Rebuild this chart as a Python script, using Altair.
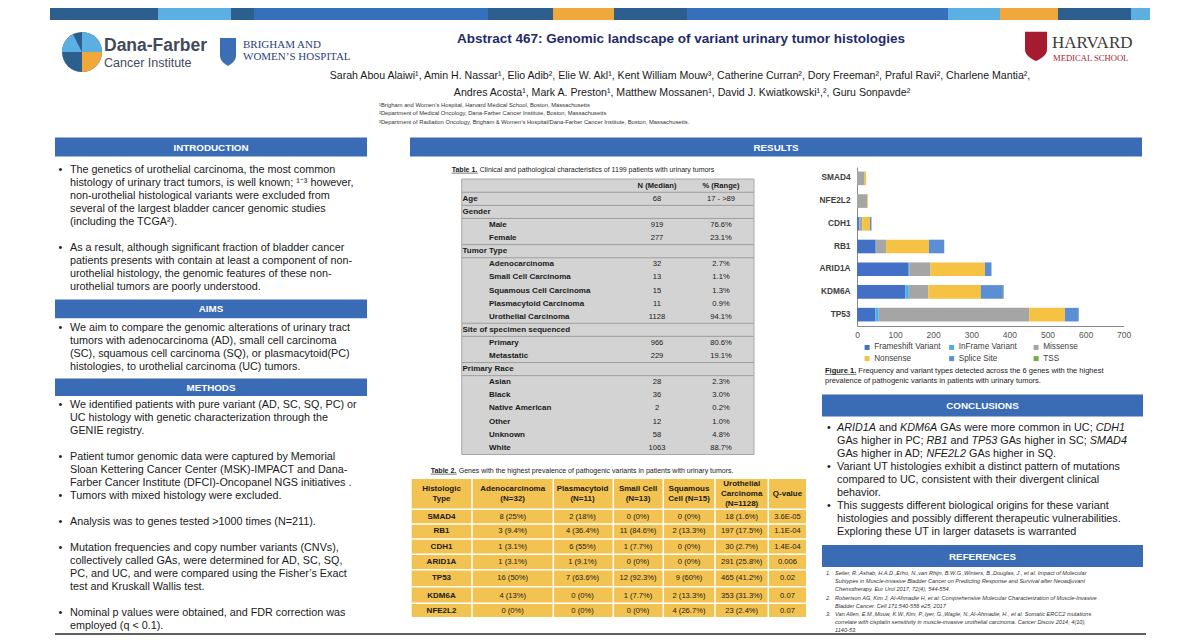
import math
import altair as alt
import pandas as pd

# ---------------- chart values ----------------
genes = ["SMAD4", "NFE2L2", "CDH1", "RB1", "ARID1A", "KDM6A", "TP53"]
variant_types = ["Frameshift Variant", "InFrame Variant", "Missense", "Nonsense", "Splice Site", "TSS"]
frameshift = [0, 0, 5, 49, 134, 127, 48]
inframe = [0, 0, 1, 1, 3, 9, 9]
missense = [20, 27, 8, 26, 56, 51, 395]
nonsense = [4, 2, 20, 113, 143, 138, 94]
splice_site = [0, 0, 4, 40, 17, 58, 36]
tss = [0, 0, 0, 0, 0, 2, 0]
x_ticks = [0, 100, 200, 300, 400, 500, 600, 700]

t1_labels = ["", "Age", "Gender", "Male", "Female", "Tumor Type", "Adenocarcinoma",
             "Small Cell Carcinoma", "Squamous Cell Carcinoma", "Plasmacytoid Carcinoma",
             "Urothelial Carcinoma", "Site of specimen sequenced", "Primary", "Metastatic",
             "Primary Race", "Asian", "Black", "Native American", "Other", "Unknown", "White"]
t1_n = ["N (Median)", "68", "", "919", "277", "", "32", "13", "15", "11", "1128", "", "966",
        "229", "", "28", "36", "2", "12", "58", "1063"]
t1_pct = ["% (Range)", "17 - >89", "", "76.6%", "23.1%", "", "2.7%", "1.1%", "1.3%", "0.9%",
          "94.1%", "", "80.6%", "19.1%", "", "2.3%", "3.0%", "0.2%", "1.0%", "4.8%", "88.7%"]
t1_kind = ["head", "group", "group", "sub", "sub", "group", "sub", "sub", "sub", "sub", "sub",
           "group", "sub", "sub", "group", "sub", "sub", "sub", "sub", "sub", "sub"]

t2_header = [["Histologic", "Type"], ["Adenocarcinoma", "(N=32)"], ["Plasmacytoid", "(N=11)"],
             ["Small Cell", "(N=13)"], ["Squamous", "Cell  (N=15)"],
             ["Urothelial", "Carcinoma", "(N=1128)"], ["Q-value"]]
t2_genes = ["SMAD4", "RB1", "CDH1", "ARID1A", "TP53", "KDM6A", "NFE2L2"]
t2_ad = ["8 (25%)", "3 (9.4%)", "1 (3.1%)", "1 (3.1%)", "16 (50%)", "4 (13%)", "0 (0%)"]
t2_pc = ["2 (18%)", "4 (36.4%)", "6 (55%)", "1 (9.1%)", "7 (63.6%)", "0 (0%)", "0 (0%)"]
t2_sc = ["0 (0%)", "11 (84.6%)", "1 (7.7%)", "0 (0%)", "12 (92.3%)", "1 (7.7%)", "0 (0%)"]
t2_sq = ["0 (0%)", "2 (13.3%)", "0 (0%)", "0 (0%)", "9 (60%)", "2 (13.3%)", "4 (26.7%)"]
t2_uc = ["18 (1.6%)", "197 (17.5%)", "30 (2.7%)", "291 (25.8%)", "465 (41.2%)", "353 (31.3%)", "23 (2.4%)"]
t2_q = ["3.6E-05", "1.1E-04", "1.4E-04", "0.006", "0.02", "0.07", "0.07"]

title_text = "Abstract 467: Genomic landscape of variant urinary tumor histologies"
authors = ["Sarah Abou Alaiwi¹, Amin H. Nassar¹, Elio Adib², Elie W. Akl¹, Kent William Mouw³, Catherine Curran², Dory Freeman², Praful Ravi², Charlene Mantia²,",
           "Andres Acosta¹, Mark A. Preston¹, Matthew Mossanen¹, David J. Kwiatkowski¹,², Guru Sonpavde²"]
affiliations = ["¹Brigham and Women’s Hospital, Harvard Medical School, Boston, Massachusetts",
                "²Department of Medical Oncology, Dana-Farber Cancer Institute, Boston, Massachusetts",
                "³Department of Radiation Oncology, Brigham & Women’s Hospital/Dana-Farber Cancer Institute, Boston, Massachusetts."]
intro_lines = [("•", "The genetics of urothelial carcinoma, the most common"),
               ("", "histology of urinary tract tumors, is well known; ¹⁻³ however,"),
               ("", "non-urothelial histological variants were excluded from"),
               ("", "several of the largest bladder cancer genomic studies"),
               ("", "(including the TCGA²)."),
               ("•", "As a result, although significant fraction of bladder cancer"),
               ("", "patients presents with contain at least a component of non-"),
               ("", "urothelial histology, the genomic features of these non-"),
               ("", "urothelial tumors are poorly understood.")]
aims_lines = [("•", "We aim to compare the genomic alterations of urinary tract"),
              ("", "tumors with adenocarcinoma (AD), small cell carcinoma"),
              ("", "(SC), squamous cell carcinoma (SQ), or plasmacytoid(PC)"),
              ("", "histologies, to urothelial carcinoma (UC) tumors.")]
methods_lines = [("•", "We identified patients with pure variant (AD, SC, SQ, PC) or"),
                 ("", "UC histology with genetic characterization through the"),
                 ("", "GENIE registry."),
                 ("•", "Patient tumor genomic data were captured by Memorial"),
                 ("", "Sloan Kettering Cancer Center (MSK)-IMPACT and Dana-"),
                 ("", "Farber Cancer Institute (DFCI)-Oncopanel NGS initiatives  ."),
                 ("•", "Tumors with mixed histology were excluded."),
                 ("•", "Analysis was to genes tested  >1000 times (N=211)."),
                 ("•", "Mutation frequencies and copy number variants (CNVs),"),
                 ("", "collectively called GAs, were determined for AD, SC, SQ,"),
                 ("", "PC, and UC, and were compared using the Fisher’s Exact"),
                 ("", "test and Kruskall Wallis test."),
                 ("•", "Nominal p values were obtained, and FDR correction was"),
                 ("", "employed (q < 0.1).")]
conclusion_lines = [
    ("•", [("ARID1A", "i"), (" and ", "n"), ("KDM6A", "i"), (" GAs were more common in UC; ", "n"), ("CDH1", "i")]),
    ("", [("GAs higher in PC; ", "n"), ("RB1", "i"), (" and ", "n"), ("TP53", "i"), (" GAs higher in SC; ", "n"), ("SMAD4", "i")]),
    ("", [("GAs higher in AD; ", "n"), ("NFE2L2", "i"), (" GAs higher in SQ.", "n")]),
    ("•", [("Variant UT histologies exhibit a distinct pattern of mutations", "n")]),
    ("", [("compared to UC, consistent with their divergent clinical", "n")]),
    ("", [("behavior.", "n")]),
    ("•", [("This suggests different biological origins for these variant", "n")]),
    ("", [("histologies and possibly different therapeutic vulnerabilities.", "n")]),
    ("", [("Exploring these UT in larger datasets is warranted", "n")]),
]
reference_lines = [
    ("1.", "Seiler, R.,Ashab, H.A.D.,Erho, N.,van Rhijn, B.W.G.,Winters, B.,Douglas, J., et al. Impact of Molecular"),
    ("", "Subtypes in Muscle-invasive Bladder Cancer on Predicting Response and Survival after Neoadjuvant"),
    ("", "Chemotherapy. Eur Urol 2017, 72(4), 544-554."),
    ("2.", "Robertson AG, Kim J, Al-Ahmadie H, et al: Comprehensive Molecular Characterization of Muscle-Invasive"),
    ("", "Bladder Cancer. Cell 171:540-556 e25, 2017"),
    ("3.", "Van Allen, E.M.,Mouw, K.W.,Kim, P.,Iyer, G.,Wagle, N.,Al-Ahmadie, H., et al. Somatic ERCC2 mutations"),
    ("", "correlate with cisplatin sensitivity in muscle-invasive urothelial carcinoma. Cancer Discov 2014, 4(10),"),
    ("", "1140-53."),
]

# ---------------- layout & styles ----------------
OFF = 8
W, H = 1184, 627
FONT = "Liberation Sans"
SERIF = "Liberation Serif"
TXT = "#1a1a1a"
BAND = "#3A6BB5"
NAVY = "#1F2C6B"
DARKB, LIGHTB, MEDB, ORANGE = "#2C5E8E", "#5BAFE1", "#3470BC", "#F0A83A"
variant_colors = ["#4170C6", "#4BAEEA", "#A5A5A5", "#F5C243", "#5B8FD5", "#70AD47"]
BX0, BX1, BY0, BY1 = 857.0, 1123.7, 167.0, 326.0

REG, BLD = {}, {}
for chars, w in [("'", 191), ("ijl", 222), (" !,./:;I[]\\ft", 278), ("()-r`", 333), ('"', 355), ("*", 389),
                 ("Jckszvxy", 500), ("#$0123456789?L_abdeghnopqu", 556), ("+<=>~", 584), ("FTZ", 611),
                 ("&ABEKPSVXY", 667), ("CDHNRUw", 722), ("GOQ", 778), ("Mm", 833), ("%", 889), ("W", 944), ("@", 1015)]:
    for c in chars:
        REG[c] = w
for chars, w in [("'", 238), (" ,./I[]\\ijl", 278), ("!()-:;`ft", 333), ("*r", 389), ('"', 474), ("z", 500),
                 ("#$0123456789Jacekxsvy_", 556), ("+<=>", 584), ("?FLTZbdghnopqu", 611), ("EPSVXY", 667),
                 ("&ABCDHKNRU", 722), ("GOQw", 778), ("M", 833), ("%m", 889), ("W", 944), ("@", 975)]:
    for c in chars:
        BLD[c] = w


def tw(s, size, bold=False):
    tab = BLD if bold else REG
    return sum(tab.get(c, 556) for c in s) * size / 1000.0


texts, rects, rules = [], [], []


def T(x, y, s, size, color=TXT, weight="normal", style="normal", align="left", font=FONT):
    texts.append(dict(x=x - OFF, y=y - OFF, text=s, size=size, color=color,
                      weight=weight, style=style, align=align, font=font))


def R(x1, x2, y1, y2, color):
    rects.append(dict(x=x1 - OFF, x2=x2 - OFF, y=y1 - OFF, y2=y2 - OFF, color=color))


def L(x1, x2, y1, y2, color, w=1.0):
    rules.append(dict(x=x1 - OFF, x2=x2 - OFF, y=y1 - OFF, y2=y2 - OFF, color=color, w=w))


def segs(x, y, parts, size, color=TXT):
    cx = x
    for s, wgt, sty in parts:
        bold = wgt == "bold"
        lead = len(s) - len(s.lstrip(" "))
        st = s.strip(" ")
        if st:
            T(cx + tw(" " * lead, size, bold), y, st, size, color, wgt, sty)
        cx += tw(s, size, bold)
    return cx


def underlined(x, y, label, size, rest):
    T(x, y, label, size, TXT, "bold")
    L(x, x + tw(label, size, True), y + size * 0.45, y + size * 0.45, TXT, 0.6)
    segs(x + tw(label, size, True), y, [(" " + rest, "normal", "normal")], size)


# ---- banner ----
for x1, x2, c in [(50, 158, DARKB), (158, 231, LIGHTB), (231, 254, DARKB), (254, 488, MEDB),
                  (488, 553, DARKB), (553, 614, ORANGE), (614, 687, DARKB), (687, 948, MEDB),
                  (948, 1000, LIGHTB), (1000, 1058, ORANGE), (1058, 1131, DARKB), (1131, 1150, LIGHTB)]:
    R(x1, x2, 0, 20, c)

# ---- logos text ----
T(104, 46, "Dana-Farber", 17.5, "#3F4B5B", "bold")
T(104, 63, "Cancer Institute", 12.5, "#3F4B5B")
T(243, 45, "BRIGHAM AND", 11, "#2B3F7A", font=SERIF)
T(243, 57, "WOMEN’S HOSPITAL", 11, "#2B3F7A", font=SERIF)
T(1052, 43, "HARVARD", 17, "#3a3a3a", font=SERIF)
T(1053, 58, "MEDICAL SCHOOL", 8.6, "#A51C30", font=SERIF)

# ---- title / authors ----
T(681, 38.5, title_text, 13.5, NAVY, "bold", align="center")
T(680, 75.5, authors[0], 10.6, TXT, align="center")
T(682, 92.5, authors[1], 10.6, TXT, align="center")
for i, a in enumerate(affiliations):
    T(379, 105 + 8.3 * i, a, 5.8, "#333333")

# ---- section bands ----
for name, x1, x2, y1, y2 in [("INTRODUCTION", 55, 367, 137.5, 156.5), ("AIMS", 55, 367, 299.5, 318.3),
                             ("METHODS", 55, 367, 378.5, 396), ("RESULTS", 410, 1142, 137.5, 156.5),
                             ("CONCLUSIONS", 822, 1143, 394.5, 416.5), ("REFERENCES", 822, 1143, 545, 567)]:
    R(x1, x2, y1, y2, BAND)
    T((x1 + x2) / 2, (y1 + y2) / 2 + 0.5, name, 9.8, "white", "bold", align="center")
R(55, 1146, 633, 645, "#5E5E5E")

BODY = 10.8
for ys, lines in [([170, 183, 196, 209, 222, 248, 261, 274, 287], intro_lines),
                  ([328, 341, 354, 367], aims_lines),
                  ([405, 418, 431, 457, 470, 483, 496, 522, 548, 561, 574, 587, 613, 626], methods_lines)]:
    for y, (b, s) in zip(ys, lines):
        if b:
            T(58.5, y, b, BODY)
        T(70, y, s, BODY)

for y, (b, parts) in zip([428, 441, 454, 467, 480, 492.5, 505.5, 518.5, 531.5], conclusion_lines):
    if b:
        T(827, y, b, BODY)
    segs(837, y, [(s, "normal", "italic" if k == "i" else "normal") for s, k in parts], BODY)

for y, (n, s) in zip([573, 581, 589, 597.5, 605.5, 613.5, 621.5, 629.5], reference_lines):
    if n:
        T(826, y, n, 5.6, "#333333", style="italic")
    T(835, y, s, 5.6, "#333333", style="italic")

# ---- table 1 ----
underlined(451.7, 170, "Table 1.", 7.0, "Clinical and pathological characteristics of 1199 patients with urinary tumors")
R(461.7, 754, 179, 454.5, "#D3D3D3")
RH = 13.1
Y1 = 185.7
for i, (lab, n, p, kind) in enumerate(zip(t1_labels, t1_n, t1_pct, t1_kind)):
    y = Y1 + RH * i
    if lab:
        T(462.5 if kind == "group" else 489, y, lab, 8, TXT, "bold")
    w = "bold" if kind == "head" else "normal"
    if n:
        T(657, y, n, 7.6, TXT, w, align="center")
    if p:
        T(721, y, p, 7.6, TXT, w, align="center")
for i in [0, 1, 2, 4, 5, 10, 11, 13, 14]:
    y = Y1 + RH * i + RH / 2
    L(461.7, 754, y, y, "#9E9E9E", 1)
L(461.7, 754, 179, 179, "#A8A8A8", 1)
L(461.7, 754, 454.5, 454.5, "#A8A8A8", 1)
L(461.7, 461.7, 179, 454.5, "#A8A8A8", 1)
L(754, 754, 179, 454.5, "#A8A8A8", 1)

# ---- table 2 ----
underlined(430.7, 471, "Table 2.", 7.0, "Genes with the highest prevalence of pathogenic variants in patients with urinary tumors.")
R(411.7, 806, 479, 617, "#F3C351")
col_div = [472, 553.3, 613.3, 663.3, 715, 768.3]
col_ctr = [441.5, 512.7, 582.5, 638, 689, 741.7, 787.5]
row_ctr = [516.7, 531.3, 546.7, 561.7, 578, 595.7, 610.7]
row_div = [509.3, 524, 539, 554.2, 569.8, 586.8, 603.2]
for x in col_div:
    L(x, x, 479, 617, "white", 1.5)
for y in row_div:
    L(411.7, 806, y, y, "white", 1.5)
for cx, hdr in zip(col_ctr, t2_header):
    n = len(hdr)
    for k, h in enumerate(hdr):
        T(cx, 494.3 + (k - (n - 1) / 2) * 10, h, 8, TXT, "bold", align="center")
for r, y in enumerate(row_ctr):
    T(col_ctr[0], y, t2_genes[r], 8, TXT, "bold", align="center")
    for c, col in enumerate([t2_ad, t2_pc, t2_sc, t2_sq, t2_uc, t2_q]):
        T(col_ctr[c + 1], y, col[r], 7.6, TXT, align="center")

# ---- figure caption ----
underlined(825, 371, "Figure 1.", 7.5, "Frequency and variant types detected across the 6 genes with the highest")
T(825, 381, "prevalence of pathogenic variants in patients with urinary tumors.", 7.5)

# ---------------- layers ----------------
rect_layer = alt.Chart(pd.DataFrame(rects)).mark_rect().encode(
    x=alt.X("x:Q", scale=None, axis=None), x2="x2:Q",
    y=alt.Y("y:Q", scale=None, axis=None), y2="y2:Q",
    color=alt.Color("color:N", scale=None, legend=None))

# Dana-Farber disc
arcs = pd.DataFrame([
    dict(x=82 - OFF, y=52 - OFF, t1=0.0, t2=2 * math.pi, color=DARKB),
    dict(x=82 - OFF, y=52 - OFF, t1=0.0, t2=math.pi / 2, color=LIGHTB),
    dict(x=82 - OFF, y=52 - OFF, t1=1.5 * math.pi, t2=1.85 * math.pi, color=LIGHTB),
    dict(x=82 - OFF, y=52 - OFF, t1=math.pi / 2, t2=math.pi, color=ORANGE),
])
arc_layer = alt.Chart(arcs).mark_arc(radius=20).encode(
    x=alt.X("x:Q", scale=None, axis=None), y=alt.Y("y:Q", scale=None, axis=None),
    theta=alt.Theta("t1:Q", scale=None, stack=False), theta2="t2:Q",
    color=alt.Color("color:N", scale=None, legend=None))
L(62, 102, 53, 53, "white", 2.2)
L(84, 84, 32, 72, "white", 2.2)
rule_layer = alt.Chart(pd.DataFrame(rules)).mark_rule().encode(
    x=alt.X("x:Q", scale=None, axis=None), x2="x2:Q",
    y=alt.Y("y:Q", scale=None, axis=None), y2="y2:Q",
    color=alt.Color("color:N", scale=None, legend=None),
    strokeWidth=alt.StrokeWidth("w:Q", scale=None, legend=None))

shields = pd.DataFrame([
    dict(x=228 - OFF, y=50 - OFF, color="#3C6EB4", kind="bwh"),
    dict(x=1036 - OFF, y=45 - OFF, color="#A51C30", kind="hms"),
])
bwh_path = "M-1,-1.5 L1,-1.5 L1,0.7 C1,1.4 0.4,1.75 0,2.0 C-0.4,1.75 -1,1.4 -1,0.7 Z"
hms_path = "M-1,-1.2 L1,-1.2 L1,0.4 C1,0.95 0.4,1.25 0,1.45 C-0.4,1.25 -1,0.95 -1,0.4 Z"
shield_layers = []
for kind, path, size in [("bwh", bwh_path, 256), ("hms", hms_path, 484)]:
    shield_layers.append(alt.Chart(shields[shields.kind == kind]).mark_point(
        shape=path, filled=True, opacity=1, size=size).encode(
        x=alt.X("x:Q", scale=None, axis=None), y=alt.Y("y:Q", scale=None, axis=None),
        color=alt.Color("color:N", scale=None, legend=None)))

# stacked bar chart
series = [frameshift, inframe, missense, nonsense, splice_site, tss]
bar_rows = []
for k, (vt, vals) in enumerate(zip(variant_types, series)):
    for g, v in zip(genes, vals):
        bar_rows.append(dict(gene=g, type=vt, value=v, order=k))
bar_layer = alt.Chart(pd.DataFrame(bar_rows)).mark_bar().encode(
    x=alt.X("value:Q", stack="zero",
            scale=alt.Scale(domain=[0, 700], range=[BX0 - OFF, BX1 - OFF], nice=False),
            axis=alt.Axis(values=x_ticks, offset=(BY1 - OFF) - H, grid=False, ticks=False, labelFlush=False,
                          domainColor="#8a8a8a", labelFontSize=8.5, labelColor="#555555", labelFont=FONT,
                          labelPadding=4, title=None)),
    y=alt.Y("gene:N", sort=genes,
            scale=alt.Scale(range=[BY0 - OFF, BY1 - OFF], paddingInner=0.4, paddingOuter=0.2),
            axis=alt.Axis(offset=-(BX0 - OFF), ticks=False, domainColor="#8a8a8a", labelFontSize=8.3,
                          labelFontWeight="bold", labelColor="#404040", labelFont=FONT, labelPadding=7,
                          title=None)),
    color=alt.Color("type:N", sort=variant_types,
                    scale=alt.Scale(domain=variant_types, range=variant_colors),
                    legend=alt.Legend(orient="none", legendX=863 - OFF, legendY=343 - OFF,
                                      direction="horizontal", columns=3, title=None, symbolType="square",
                                      symbolSize=25, symbolStrokeWidth=0, labelFontSize=8.2, labelFont=FONT,
                                      labelColor="#404040", labelOffset=3, columnPadding=6.5, rowPadding=2.5,
                                      gridAlign="all", padding=0)),
    order=alt.Order("order:Q", sort="ascending"),
)

# text layers
tdf = pd.DataFrame(texts)
text_layers = []
for (wgt, sty, al, fnt), g in tdf.groupby(["weight", "style", "align", "font"]):
    text_layers.append(alt.Chart(g.reset_index(drop=True)).mark_text(
        align=al, baseline="middle", font=fnt, fontWeight=wgt, fontStyle=sty).encode(
        x=alt.X("x:Q", scale=None, axis=None),
        y=alt.Y("y:Q", scale=None, axis=None),
        text=alt.Text("text:N"),
        size=alt.Size("size:Q", scale=None, legend=None),
        color=alt.Color("color:N", scale=None, legend=None)))

chart = alt.layer(rect_layer, rule_layer, arc_layer, *shield_layers, bar_layer, *text_layers).resolve_scale(
    x="independent", y="independent", color="independent", size="independent"
).properties(
    width=W, height=H, padding=0, autosize=alt.AutoSizeParams(type="none"), background="white"
).configure_view(stroke=None)

chart.save("out.html", embed_options={"renderer": "svg", "actions": False})
